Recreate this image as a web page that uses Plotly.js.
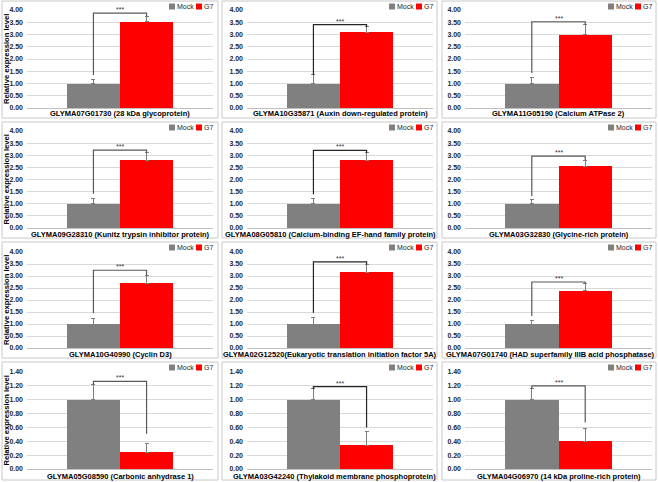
<!DOCTYPE html>
<html>
<head>
<meta charset="utf-8">
<script src="https://cdn.plot.ly/plotly-3.0.1.min.js"></script>
<style>html,body{margin:0;padding:0;background:#fff;}#chart{width:658px;height:482px;}</style>
</head>
<body>
<div id="chart"></div>
<script>
// ---------- data ----------
const panelTitles = [
  'GLYMA07G01730 (28 kDa glycoprotein)',
  'GLYMA10G35871 (Auxin down-regulated protein)',
  'GLYMA11G05190 (Calcium ATPase 2)',
  'GLYMA09G28310 (Kunitz trypsin inhibitor protein)',
  'GLYMA08G05810 (Calcium-binding EF-hand family protein)',
  'GLYMA03G32830 (Glycine-rich protein)',
  'GLYMA10G40990 (Cyclin D3)',
  'GLYMA02G12520(Eukaryotic translation initiation factor 5A)',
  'GLYMA07G01740 (HAD superfamily IIIB acid phosphatase)',
  'GLYMA05G08590 (Carbonic anhydrase 1)',
  'GLYMA03G42240 (Thylakoid membrane phosphoprotein)',
  'GLYMA04G06970 (14 kDa proline-rich protein)'
];
const groups = ['Mock', 'G7'];
const mockMean = [1.00, 1.00, 1.00, 1.00, 1.00, 1.00, 1.00, 1.00, 1.00, 1.00, 1.00, 1.00];
const mockErr  = [0.17, 0.35, 0.24, 0.23, 0.21, 0.16, 0.24, 0.27, 0.13, 0.22, 0.155, 0.155];
const g7Mean   = [3.52, 3.10, 3.00, 2.80, 2.79, 2.55, 2.69, 3.15, 2.39, 0.245, 0.34, 0.40];
const g7Err    = [0.22, 0.21, 0.39, 0.31, 0.31, 0.25, 0.34, 0.33, 0.29, 0.12, 0.20, 0.19];
const bracketY       = [3.87, 3.40, 3.52, 3.21, 3.20, 2.96, 3.24, 3.59, 2.75, 1.265, 1.19, 1.20];
const bracketMockEnd = [1.35, 1.35, 1.43, 1.41, 1.39, 1.32, 1.45, 1.47, 1.33, 1.22, 1.155, 1.155];
const bracketG7End   = [3.74, 3.31, 3.39, 3.11, 3.10, 2.80, 3.03, 3.48, 2.68, 0.51, 0.60, 0.67];
const sigLabel = '***';
const yAxisMax  = [4, 4, 4, 1.4];   // per row
const yAxisStep = [0.5, 0.5, 0.5, 0.2];
const yTitle = 'Relative expression level';

// ---------- layout geometry (pixels) ----------
const W = 658, H = 482;
const px = x => x / W;
const py = y => 1 - y / H;
const plotX = [[27, 213], [247, 433], [465, 652]];
const plotY = [[10, 108], [131, 228], [252, 348], [372, 469]];
const boxX = [[2, 218], [222, 437], [442, 656]];
const boxY = [[1, 118], [122, 238], [242, 358], [362, 480]];
const titleY = [113.5, 234.5, 354.5, 476];

const FONT = 'Liberation Sans, Arial, sans-serif';
const TITLE_SIZE = 7.5;
const colors = ['#808080', '#FF0000'];

const ctx = document.createElement('canvas').getContext('2d');
ctx.font = 'bold ' + TITLE_SIZE + 'px "Liberation Sans", Arial, sans-serif';

const data = [];
const layout = {
  width: W, height: H,
  margin: {l: 0, r: 0, t: 0, b: 0},
  paper_bgcolor: '#fff', plot_bgcolor: '#fff',
  showlegend: false,
  bargap: 0,
  font: {family: FONT, color: '#000'},
  shapes: [], annotations: []
};

for (let i = 0; i < 12; i++) {
  const r = Math.floor(i / 3), c = i % 3;
  const n = i === 0 ? '' : String(i + 1);
  const xa = 'x' + n, ya = 'y' + n;

  layout['xaxis' + n] = {
    domain: [px(plotX[c][0]), px(plotX[c][1])],
    anchor: ya, type: 'category', range: [-1.25, 2.25],
    showticklabels: false, showgrid: false, zeroline: false,
    showline: true, linecolor: '#bfbfbf', linewidth: 1, ticks: '', fixedrange: true
  };
  layout['yaxis' + n] = {
    domain: [py(plotY[r][1]), py(plotY[r][0])],
    anchor: xa, range: [0, yAxisMax[r]], dtick: yAxisStep[r], tick0: 0,
    tickformat: '.2f', showgrid: true, gridcolor: '#d9d9d9', gridwidth: 1,
    zeroline: false, showline: false, ticks: '', ticklabelstandoff: 3,
    tickfont: {family: FONT, size: 7, color: '#262626', weight: 'bold'}, fixedrange: true
  };

  data.push({
    type: 'bar', x: groups, y: [mockMean[i], g7Mean[i]], xaxis: xa, yaxis: ya,
    width: 1,
    marker: {color: colors, line: {width: 0}},
    error_y: {type: 'data', symmetric: false, array: [mockErr[i], g7Err[i]], arrayminus: [0, 0],
              color: '#7f7f7f', thickness: 1, width: 2},
    hoverinfo: 'skip'
  });
  data.push({
    type: 'scatter', mode: 'lines', xaxis: xa, yaxis: ya,
    x: [groups[0], groups[0], groups[1], groups[1]],
    y: [bracketMockEnd[i], bracketY[i], bracketY[i], bracketG7End[i]],
    line: {color: c === 1 ? '#262626' : '#595959', width: 1.2},
    hoverinfo: 'skip'
  });

  layout.annotations.push({
    xref: xa, yref: ya, x: 0.5, y: bracketY[i], yanchor: 'bottom', xanchor: 'center',
    text: sigLabel, showarrow: false, yshift: -2,
    font: {family: FONT, size: 7, color: '#333'}
  });

  // panel frame
  layout.shapes.push({
    type: 'rect', xref: 'paper', yref: 'paper',
    x0: px(boxX[c][0]), x1: px(boxX[c][1]), y0: py(boxY[r][1]), y1: py(boxY[r][0]),
    line: {color: '#c8c8c8', width: 1}, fillcolor: 'rgba(0,0,0,0)', layer: 'below'
  });

  // bottom gene title: centred under the plot area, kept inside the frame
  const tw = ctx.measureText(panelTitles[i]).width;
  let cx = (plotX[c][0] + plotX[c][1]) / 2;
  cx = Math.min(cx, boxX[c][1] - tw / 2 - 1);
  cx = Math.max(cx, boxX[c][0] + tw / 2 + 1);
  layout.annotations.push({
    xref: 'paper', yref: 'paper',
    x: px(cx), y: py(titleY[r]),
    xanchor: 'center', yanchor: 'middle', showarrow: false,
    text: panelTitles[i],
    font: {family: FONT, size: TITLE_SIZE, color: '#000', weight: 'bold'}
  });

  // legend (Mock / G7)
  const rx = plotX[c][1], ty = boxY[r][0];
  const legendItems = [
    {name: groups[0], color: colors[0], sq: rx - 44},
    {name: groups[1], color: colors[1], sq: rx - 17}
  ];
  legendItems.forEach(it => {
    layout.shapes.push({
      type: 'rect', xref: 'paper', yref: 'paper',
      x0: px(it.sq), x1: px(it.sq + 6), y0: py(ty + 8.5), y1: py(ty + 2.5),
      line: {width: 0}, fillcolor: it.color, layer: 'above'
    });
    layout.annotations.push({
      xref: 'paper', yref: 'paper', x: px(it.sq + 6.5), y: py(ty + 5.5),
      xanchor: 'left', yanchor: 'middle', showarrow: false, text: it.name,
      borderpad: 0,
      font: {family: FONT, size: 7, color: '#262626'}
    });
  });

  if (c === 0) {
    layout.annotations.push({
      xref: 'paper', yref: 'paper', x: px(6), y: py((plotY[r][0] + plotY[r][1]) / 2),
      xanchor: 'center', yanchor: 'middle', showarrow: false, textangle: -90,
      text: yTitle, font: {family: FONT, size: 7.6, color: '#000', weight: 'bold'}
    });
  }
}

Plotly.newPlot('chart', data, layout, {staticPlot: true, displayModeBar: false});
</script>
</body>
</html>
